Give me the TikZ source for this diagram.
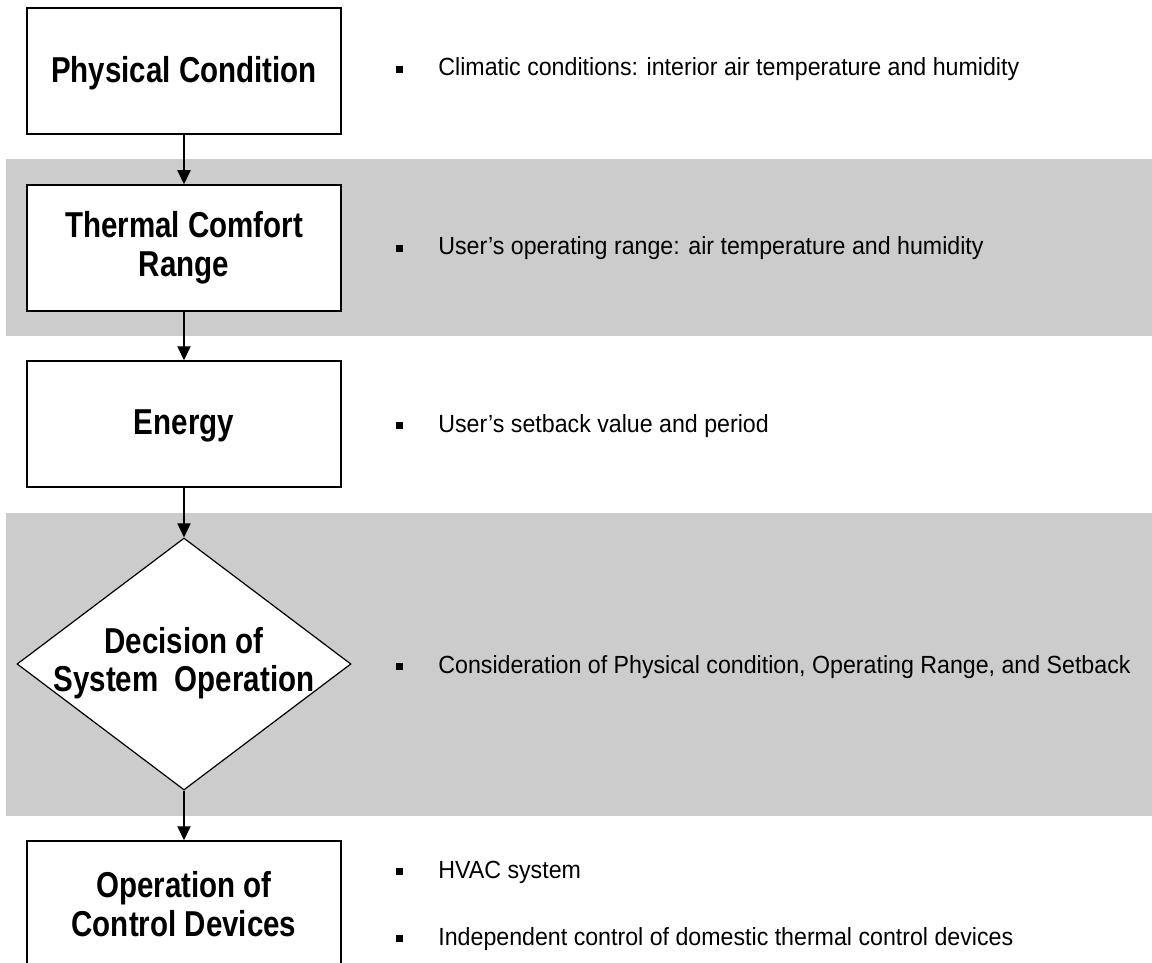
\documentclass[tikz,border=0pt]{standalone}
\usepackage{fontspec}
\setmainfont[FakeStretch=0.82]{Liberation Sans}
\newfontfamily\bodyfont[FakeStretch=0.935]{Liberation Sans}
\usetikzlibrary{shapes.geometric,arrows.meta}
\definecolor{bandgray}{HTML}{CCCCCC}
\tikzset{
  stepbox/.style={draw=black, line width=0.75pt, fill=white, minimum width=157pt, minimum height=63pt, inner sep=0pt, align=center, font=\fontsize{18}{19.5}\selectfont\bfseries},
  decbox/.style={draw=black, line width=0.6pt, fill=white, diamond, minimum width=167pt, minimum height=126pt, inner sep=0pt, aspect=1.325},
  dectext/.style={align=center, font=\fontsize{18}{19}\selectfont\bfseries},
  arr/.style={draw=black, line width=0.6pt, -{Triangle[width=6.6pt,length=7pt]}},
  band/.style={fill=bandgray, draw=none},
  item/.style={anchor=base west, inner sep=0pt, font=\bodyfont\fontsize{12.4}{14}\selectfont},
  bul/.style={fill=black, draw=none, rectangle, minimum width=3.6pt, minimum height=3.9pt, inner sep=0pt}
}
\begin{document}
\begin{tikzpicture}[x=0.5pt, y=-0.5pt]
\useasboundingbox (0,0) rectangle (1152,963);
\clip (0,0) rectangle (1152,963);
% bands
\path[band] (6,159) rectangle (1152,336);
\path[band] (6,513) rectangle (1152,816);
% boxes
\node[stepbox] (b1) at (184,71) {};
\node[font=\fontsize{18}{19.5}\selectfont\bfseries] (b1t) at (184,73) {Physical Condition};
\node[stepbox] (b2) at (184,248) {Thermal Comfort\\Range};
\node[stepbox] (b3) at (184,424) {};
\node[font=\fontsize{18}{19.5}\selectfont\bfseries] (b3t) at (184,426) {Energy};
\node[decbox] (d) at (184,664) {};
\node[dectext] (dt) at (184,663) {Decision of\\System~~Operation};
\node[stepbox] (b4) at (184,904) {Operation of\\Control Devices};
% arrows
\draw[arr] (b1) -- (b2);
\draw[arr] (b2) -- (b3);
\draw[arr] (b3) -- (d);
\draw[arr] (d) -- (b4);
% bullets and items
\node[bul] (p1) at (399.5,69.5) {};
\node[item] (t1) at (438,76) {Climatic conditions: interior air temperature and humidity};
\node[bul] (p2) at (399.5,248.5) {};
\node[item] (t2) at (438,255) {User’s operating range: air temperature and humidity};
\node[bul] (p3) at (399.5,425.5) {};
\node[item] (t3) at (438,432) {User’s setback value and period};
\node[bul] (p4) at (399.5,666.5) {};
\node[item] (t4) at (438,673) {Consideration of Physical condition, Operating Range, and Setback};
\node[bul] (p5) at (399.5,871.5) {};
\node[item] (t5) at (438,878) {HVAC system};
\node[bul] (p6) at (399.5,938.5) {};
\node[item] (t6) at (438,945) {Independent control of domestic thermal control devices};
\end{tikzpicture}
\end{document}
